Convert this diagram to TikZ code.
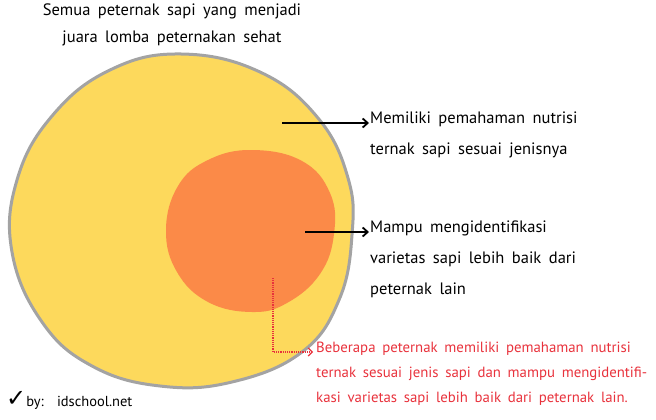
\documentclass[tikz,border=0pt]{standalone}
\usepackage{fontspec}
\setmainfont{PT Sans}[WordSpace=1.7]
\newfontfamily\symfont{DejaVu Sans}
\usetikzlibrary{arrows.meta}

\definecolor{sunyellow}{HTML}{FDD95C}
\definecolor{carrot}{HTML}{FB8A48}
\definecolor{rimgray}{HTML}{A3A3A3}
\definecolor{notered}{HTML}{E8323C}

\tikzset{
  note/.style={anchor=north west, align=left, font=\fontsize{16.5}{31}\selectfont, inner sep=0pt},
  rednote/.style={note, text=notered, font=\fontsize{14.8}{25}\selectfont},
  pointer/.style={-{Straight Barb[length=5pt,width=9pt]}, line width=1.8pt, shorten >=1pt},
  dotpointer/.style={-{Straight Barb[length=4pt,width=8pt,line width=1.2pt]}, notered, densely dotted, line width=1.2pt, shorten >=3pt}
}

\begin{document}
\begin{tikzpicture}[x=1pt,y=-1pt]
\useasboundingbox (0,0) rectangle (656,420);

% big set
\draw[rimgray, line width=3pt, fill=sunyellow] plot[smooth cycle, tension=0.7] coordinates
{(181,54) (260,72) (318,118) (348,178) (352,235) (339,300) (302,352) (232,382) (160,386) (92,366) (42,322) (12,252) (17,180) (52,116) (110,70)};

% small set
\fill[carrot] plot[smooth cycle, tension=0.7] coordinates
{(252,150) (302,161) (330,193) (334,234) (320,274) (287,303) (252,312) (208,302) (177,272) (166,230) (178,186) (208,160)};

% title
\node[align=center, font=\fontsize{16.5}{27}\selectfont, inner sep=0pt, anchor=north] (title) at (172,4)
{Semua peternak sapi yang menjadi\\ juara lomba peternakan sehat};

% labels
\coordinate (p1) at (282,123);
\node[note] (t1) at (370,112) {Memiliki pemahaman nutrisi\\ ternak sapi sesuai jenisnya};
\draw[pointer] (p1) -- (p1 -| t1.west);

\coordinate (p2) at (305,232);
\node[note] (t2) at (370,221) {Mampu mengidentifikasi\\ varietas sapi lebih baik dari\\ peternak lain};
\draw[pointer] (p2) -- (p2 -| t2.west);

\coordinate (p3) at (273,278);
\coordinate (p4) at (273,352);
\node[rednote] (t3) at (316,342) {Beberapa peternak memiliki pemahaman nutrisi\\ ternak sesuai jenis sapi dan mampu mengidentifi-\\ kasi varietas sapi lebih baik dari peternak lain.};
\draw[dotpointer] (p3) -- (p4) -- (p4 -| t3.west);

\node[anchor=base west, inner sep=0pt, font=\fontsize{14.5}{14.5}\selectfont] (credit) at (6,406) {{\symfont\fontsize{24}{24}\selectfont ✓}by:\ \ idschool.net};
\end{tikzpicture}
\end{document}
